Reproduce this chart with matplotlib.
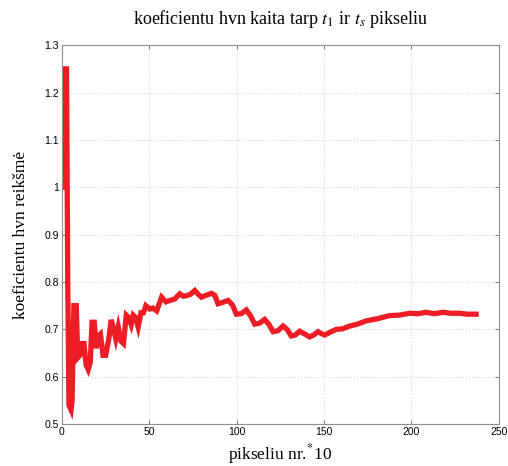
import matplotlib
matplotlib.use("Agg")
import matplotlib.pyplot as plt

plt.rcParams["mathtext.fontset"] = "stix"

# values
pixel_nr = [0, 0.8, 1.2, 2.6, 3.3, 4.0, 5.2, 5.8, 6.8, 8.2, 9.0, 10.2, 11.2, 12.6,
            13.8, 15.0, 16.2, 17.2, 18.5, 19.6, 20.6, 22.0, 23.5, 25.0, 26.8, 28.2,
            29.6, 30.8, 32.2, 33.8, 35.2, 36.8, 38.2, 39.6, 40.8, 42.2, 43.6, 45.2,
            46.6, 48.0, 50.3, 52.0, 54.2, 57.0, 59.5, 61.7, 64.5, 67.4, 69.5, 71.2,
            73.5, 76.0, 78.0, 79.8, 82.5, 85.5, 87.4, 89.3, 92.0, 95.0, 97.5, 99.8,
            102.5, 105.5, 108.0, 110.3, 113.0, 116.0, 118.5, 120.8, 123.5, 126.5,
            129.0, 131.2, 133.5, 136.0, 139.0, 141.7, 144.0, 146.5, 148.5, 150.3,
            153.5, 157.0, 160.5, 164.6, 169.0, 174.2, 180.0, 187.5, 193.0, 199.0,
            203.5, 208.5, 213.0, 218.0, 222.5, 227.5, 232.0, 237.0]
ratio = [1.00, 1.25, 1.25, 1.25, 0.80, 0.54, 0.53, 0.55, 0.75, 0.75, 0.64, 0.645,
         0.67, 0.67, 0.625, 0.615, 0.63, 0.715, 0.715, 0.66, 0.685, 0.69, 0.645,
         0.645, 0.68, 0.72, 0.70, 0.68, 0.705, 0.675, 0.67, 0.73, 0.725, 0.71,
         0.73, 0.725, 0.705, 0.735, 0.735, 0.75, 0.743, 0.745, 0.739, 0.768, 0.758,
         0.761, 0.764, 0.775, 0.770, 0.771, 0.774, 0.782, 0.774, 0.768, 0.772,
         0.776, 0.772, 0.754, 0.757, 0.761, 0.752, 0.732, 0.733, 0.741, 0.728,
         0.711, 0.713, 0.721, 0.710, 0.695, 0.697, 0.707, 0.699, 0.686, 0.688,
         0.696, 0.690, 0.684, 0.688, 0.695, 0.691, 0.688, 0.694, 0.700, 0.701,
         0.707, 0.711, 0.718, 0.722, 0.729, 0.730, 0.734, 0.733, 0.736, 0.733,
         0.736, 0.734, 0.734, 0.732, 0.732]

fig = plt.figure(figsize=(5.08, 4.66), dpi=100)
ax = fig.add_axes([0.122, 0.090, 0.860, 0.813])

ax.plot(pixel_nr, ratio, color="#ee1c24", linewidth=3.8, solid_joinstyle="miter")

ax.set_xlim(0, 250)
ax.set_ylim(0.5, 1.3)
ax.set_xticks([0, 50, 100, 150, 200, 250])
ax.set_yticks([0.5, 0.6, 0.7, 0.8, 0.9, 1.0, 1.1, 1.2, 1.3])
ax.set_yticklabels(["0.5", "0.6", "0.7", "0.8", "0.9", "1", "1.1", "1.2", "1.3"])
ax.tick_params(direction="in", top=True, right=True, labelsize=7.5,
               length=3, color="#808080", pad=2)
for lbl in ax.get_xticklabels() + ax.get_yticklabels():
    lbl.set_family("Liberation Sans")
for s in ax.spines.values():
    s.set_color("#909090")
ax.grid(True, linestyle=":", color="#d8d8d8", linewidth=0.8)

serif = "Liberation Serif"
ax.set_title(r"koeficientu hvn kaita tarp $t_1$ ir $t_s$ pikseliu",
             family=serif, fontsize=13, pad=15)
ax.set_xlabel(r"pikseliu nr.$^{*}$10", family=serif, fontsize=12.5, labelpad=4)
ax.set_ylabel("koeficientu hvn reikšmė", family=serif, fontsize=12.5, labelpad=11)

fig.savefig("out.png", dpi=100)
